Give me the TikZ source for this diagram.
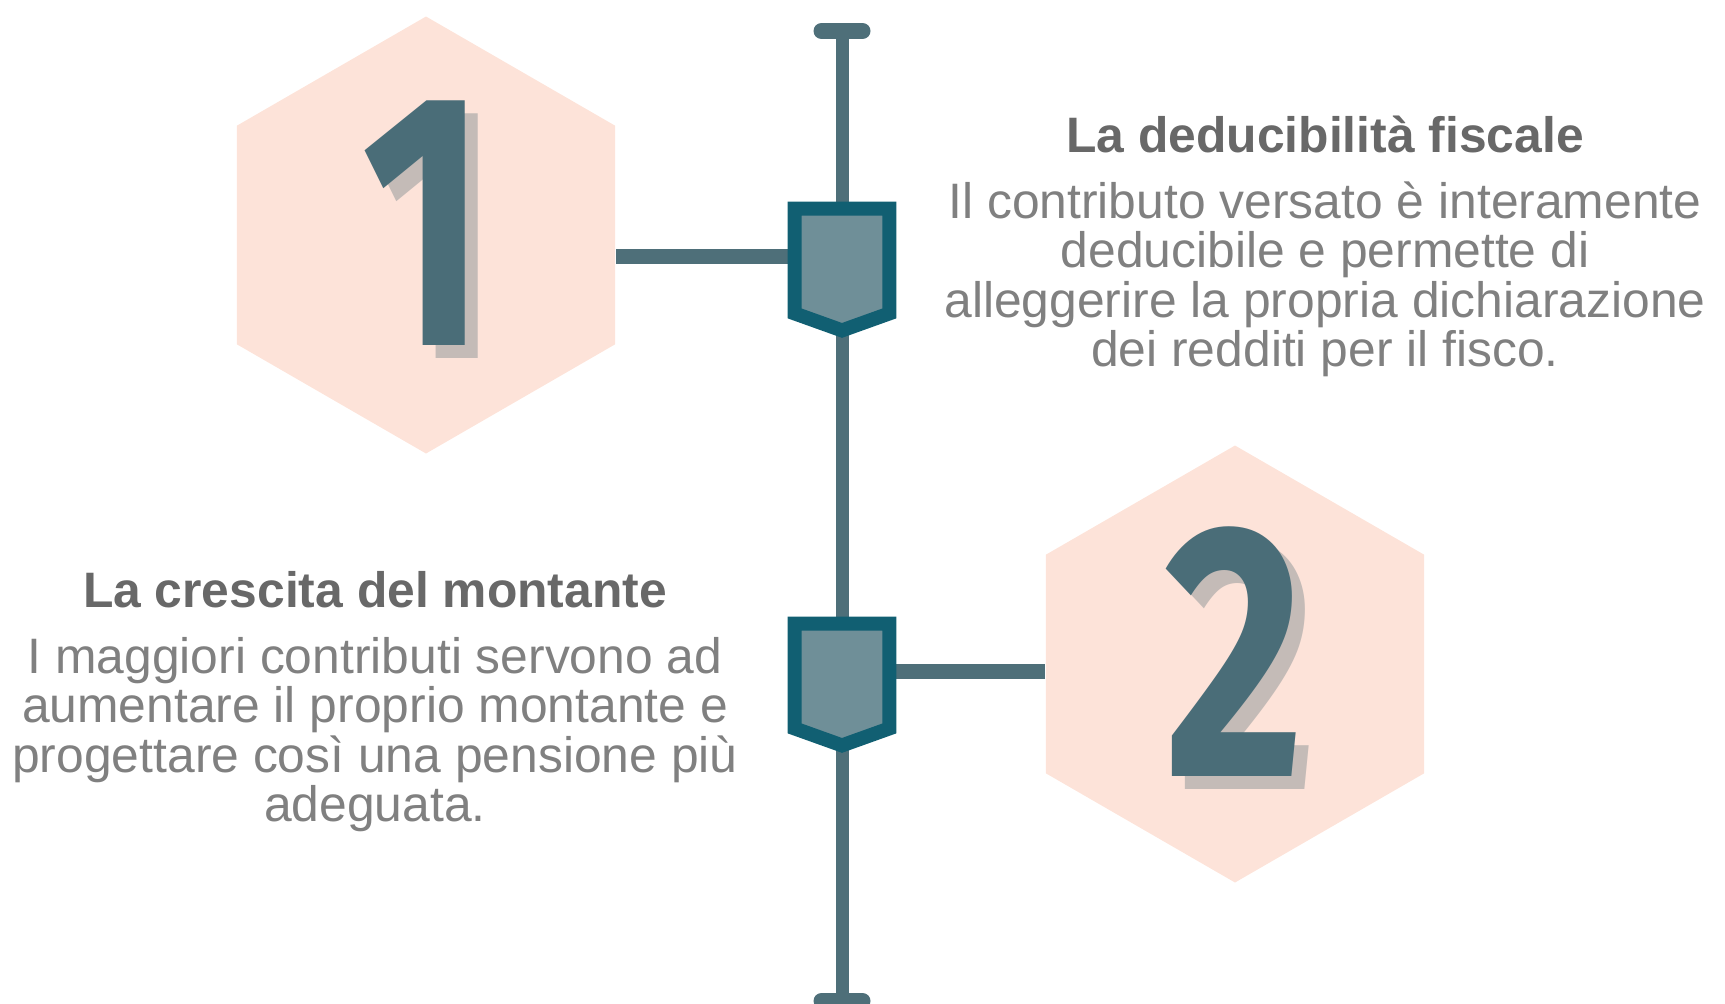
\documentclass[tikz,border=0pt]{standalone}
\usepackage{fontspec}
\usepackage{graphicx}
\setmainfont{Liberation Sans}
\newfontfamily\digitfont{Fira Sans}
\usetikzlibrary{shapes.geometric,positioning}
\definecolor{stemcol}{RGB}{78,111,121}
\definecolor{hexfill}{RGB}{253,227,217}
\definecolor{digitcol}{RGB}{74,109,120}
\definecolor{shadowcol}{RGB}{196,187,183}
\definecolor{shieldborder}{RGB}{17,95,114}
\definecolor{shieldfill}{RGB}{111,143,152}
\definecolor{bodygray}{RGB}{128,128,128}
\definecolor{titlegray}{RGB}{104,104,104}
\tikzstyle{hexbox} = [regular polygon, regular polygon sides=6, shape border rotate=30,
    fill=hexfill, minimum size=218.5pt, inner sep=0pt]
\tikzstyle{digit} = [text=digitcol, inner sep=0pt,
    font=\digitfont\bfseries\fontsize{181}{181}\selectfont]
\tikzstyle{digitshadow} = [digit, text=shadowcol]
\tikzstyle{shieldnode} = [minimum width=47pt, minimum height=52pt, inner sep=0pt]
\tikzstyle{shield} = [draw=shieldborder, fill=shieldfill, line width=7pt]
\tikzstyle{stem} = [draw=stemcol, line width=6.5pt]
\tikzstyle{endcap} = [draw=stemcol, line width=8pt, line cap=round]
\tikzstyle{link} = [draw=stemcol, line width=7.5pt]
\tikzstyle{infotext} = [align=center, text=bodygray, inner sep=0pt,
    font=\fontsize{24.9}{24.75}\selectfont]
\newcommand{\digitbox}[1]{\scalebox{0.75}[1]{#1}}

\begin{document}
\begin{tikzpicture}[x=0.5pt, y=-0.5pt]
                \useasboundingbox (0,0) rectangle (1725,1003);
                \coordinate (top) at (842,31);
                \coordinate (bot) at (842,1001);
                \draw[stem] (top) -- (bot);
                \draw[endcap] ([xshift=-10.25pt]top) -- ([xshift=10.25pt]top);
                \draw[endcap] ([xshift=-10.25pt]bot) -- ([xshift=10.25pt]bot);

                \node[hexbox] (h1) at (426,235) {};
                \node[hexbox] (h2) at (1235,664) {};
                \node[digitshadow] (d1s) at ([shift={(5.5pt,-0.5pt)}]h1.center) {\digitbox{1}};
                \node[digit] (d1) at ([shift={(-1pt,6pt)}]h1.center) {\digitbox{1}};
                \node[digitshadow] (d2s) at ([shift={(6.5pt,-0.5pt)}]h2.center) {\digitbox{2}};
                \node[digit] (d2) at ([shift={(0pt,6pt)}]h2.center) {\digitbox{2}};

                \node[shieldnode] (s1) at (842,261) {};
                \node[shieldnode] (s2) at (842,676) {};
                \coordinate (j1) at ([yshift=2.5pt]s1.center);
                \coordinate (j2) at ([yshift=2.5pt]s2.center);
                \draw[link] (j1) -- (j1 -| h1.east);
                \draw[link] (j2) -- (j2 -| h2.west);
                \draw[shield] (s1.north west) -- (s1.north east) -- (s1.south east)
                    -- ([yshift=-8.5pt]s1.south) -- (s1.south west) -- cycle;
                \draw[shield] (s2.north west) -- (s2.north east) -- (s2.south east)
                    -- ([yshift=-8.5pt]s2.south) -- (s2.south west) -- cycle;

                \node[infotext, anchor=base] (txt1) at (1325,366.5) {%
                    \textbf{\color{titlegray}La deducibilità fiscale}\\[8.25pt]
                    Il contributo versato è interamente\\
                    deducibile e permette di\\
                    alleggerire la propria dichiarazione\\
                    dei redditi per il fisco.};
                \node[infotext, anchor=base] (txt2) at (375,821.5) {%
                    \textbf{\color{titlegray}La crescita del montante}\\[8.25pt]
                    I maggiori contributi servono ad\\
                    aumentare il proprio montante e\\
                    progettare così una pensione più\\
                    adeguata.};
            \end{tikzpicture}
\end{document}
